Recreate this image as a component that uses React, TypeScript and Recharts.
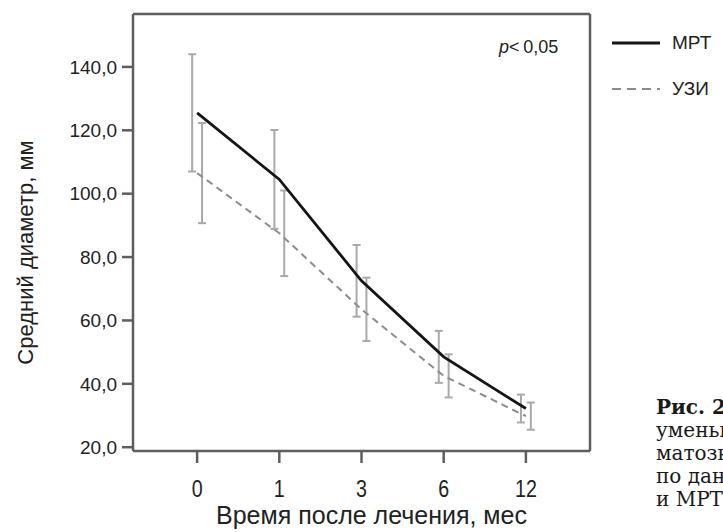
import React from "react";
import {
    ComposedChart,
    Line,
    Scatter,
    ErrorBar,
    XAxis,
    YAxis,
    ReferenceLine,
} from "recharts";

// months after treatment (category labels)
const months = ["0", "1", "3", "6", "12"];
// mean diameter, mm
const mrtMean = [125.5, 104.5, 72.5, 48.5, 32.2];
const usMean = [106.5, 87.5, 63.5, 42.5, 29.8];
// error bar half-length, mm
const mrtErr = [18.5, 15.6, 11.3, 8.2, 4.4];
const usErr = [15.8, 13.5, 10.0, 6.8, 4.3];
const yTicks = [20, 40, 60, 80, 100, 120, 140];

const X_MIN = -0.78;
const X_MAX = 4.78;
const Y_MIN = 18.8;
const Y_MAX = 156.7;
const SHIFT = 0.06; // error bars drawn slightly apart

const mrtLine = months.map((m, i) => ({ x: i, y: mrtMean[i] }));
const usLine = months.map((m, i) => ({ x: i, y: usMean[i] }));
const mrtBars = months.map((m, i) => ({ x: i - SHIFT, y: mrtMean[i], e: mrtErr[i] }));
const usBars = months.map((m, i) => ({ x: i + SHIFT, y: usMean[i], e: usErr[i] }));

const sans = "'Liberation Sans', Arial, Helvetica, sans-serif";
const frame = "#5e5e5e";

const NoDot = () => <g />;

// narrow-looking month labels
const MonthTick = ({ x, y, payload }: any) => (
    <text
        transform={`translate(${x} ${y}) scale(0.82 1)`}
        textAnchor="middle"
        dy="0.72em"
        fill="#222"
        fontSize={24}
        fontFamily={sans}
    >
        {months[payload.value]}
    </text>
);

export default function App() {
    return (
        <div style={{ position: "fixed", left: 0, top: 0, width: 723, height: 532, background: "#fff", overflow: "hidden" }}>
            <ComposedChart width={723} height={532} margin={{ top: 14, right: 133, bottom: 0, left: 0 }}>
                <XAxis
                    type="number"
                    dataKey="x"
                    domain={[X_MIN, X_MAX]}
                    ticks={[0, 1, 2, 3, 4]}
                    allowDataOverflow
                    height={81}
                    stroke={frame}
                    strokeWidth={2.5}
                    tickSize={12}
                    tickMargin={17}
                    tick={<MonthTick />}
                    label={{
                        content: ({ viewBox }: any) => (
                            <text
                                x={viewBox.x + viewBox.width / 2 + 10}
                                y={viewBox.y + 73}
                                textAnchor="middle"
                                fill="#222"
                                fontSize={25}
                                fontFamily={sans}
                            >
                                Время после лечения, мес
                            </text>
                        ),
                    }}
                />
                <YAxis
                    type="number"
                    domain={[Y_MIN, Y_MAX]}
                    ticks={yTicks}
                    allowDataOverflow
                    width={133}
                    stroke={frame}
                    strokeWidth={2.5}
                    tickSize={11}
                    tickMargin={5}
                    tickFormatter={(v) => v.toFixed(1).replace(".", ",")}
                    tick={{ fill: "#222", fontSize: 19, fontFamily: sans }}
                    label={{
                        content: ({ viewBox }: any) => {
                            const cx = 25;
                            const cy = viewBox.y + viewBox.height / 2 + 20;
                            return (
                                <text
                                    x={cx}
                                    y={cy}
                                    transform={`rotate(-90 ${cx} ${cy})`}
                                    textAnchor="middle"
                                    dominantBaseline="central"
                                    fill="#222"
                                    fontSize={22}
                                    fontFamily={sans}
                                >
                                    Средний диаметр, мм
                                </text>
                            );
                        },
                    }}
                />
                <ReferenceLine y={Y_MAX} stroke={frame} strokeWidth={2.5} ifOverflow="visible" />
                <ReferenceLine x={X_MAX} stroke={frame} strokeWidth={2.5} ifOverflow="visible" />

                <Scatter data={mrtBars} dataKey="y" shape={NoDot} isAnimationActive={false}>
                    <ErrorBar dataKey="e" direction="y" width={4} stroke="#a9a9a9" strokeWidth={2} isAnimationActive={false} />
                </Scatter>
                <Scatter data={usBars} dataKey="y" shape={NoDot} isAnimationActive={false}>
                    <ErrorBar dataKey="e" direction="y" width={4} stroke="#a9a9a9" strokeWidth={2} isAnimationActive={false} />
                </Scatter>

                <Line
                    data={usLine}
                    dataKey="y"
                    type="linear"
                    stroke="#8c8c8c"
                    strokeWidth={2}
                    strokeDasharray="7 5"
                    dot={false}
                    activeDot={false}
                    isAnimationActive={false}
                />
                <Line
                    data={mrtLine}
                    dataKey="y"
                    type="linear"
                    stroke="#151515"
                    strokeWidth={2.8}
                    dot={false}
                    activeDot={false}
                    isAnimationActive={false}
                />
            </ComposedChart>

            <div style={{ position: "absolute", left: 499, top: 37, fontFamily: sans, fontSize: 18, color: "#222", whiteSpace: "nowrap" }}>
                <i>p</i>{"<\u20090,05"}
            </div>

            <div style={{ position: "absolute", left: 612, top: 31, fontFamily: sans, fontSize: 19, color: "#222", lineHeight: "24px" }}>
                <div style={{ display: "flex", alignItems: "center", gap: 12, height: 24 }}>
                    <svg width={48} height={6}><line x1={0} y1={3} x2={48} y2={3} stroke="#151515" strokeWidth={2.8} /></svg>
                    <span>МРТ</span>
                </div>
                <div style={{ display: "flex", alignItems: "center", gap: 12, height: 24, marginTop: 22 }}>
                    <svg width={48} height={6}><line x1={0} y1={3} x2={48} y2={3} stroke="#8c8c8c" strokeWidth={2} strokeDasharray="9 6" /></svg>
                    <span>УЗИ</span>
                </div>
            </div>

            <div style={{ position: "absolute", left: 656, top: 396, width: 67, overflow: "hidden", whiteSpace: "nowrap", fontFamily: "'DejaVu Serif', serif", fontSize: 20, lineHeight: "23px", color: "#1a1a1a" }}>
                <div><b>Рис. 2.</b> Динамика</div>
                <div>уменьшения размеров</div>
                <div>матозных узлов</div>
                <div>по данным УЗИ</div>
                <div>и МРТ</div>
            </div>
        </div>
    );
}
